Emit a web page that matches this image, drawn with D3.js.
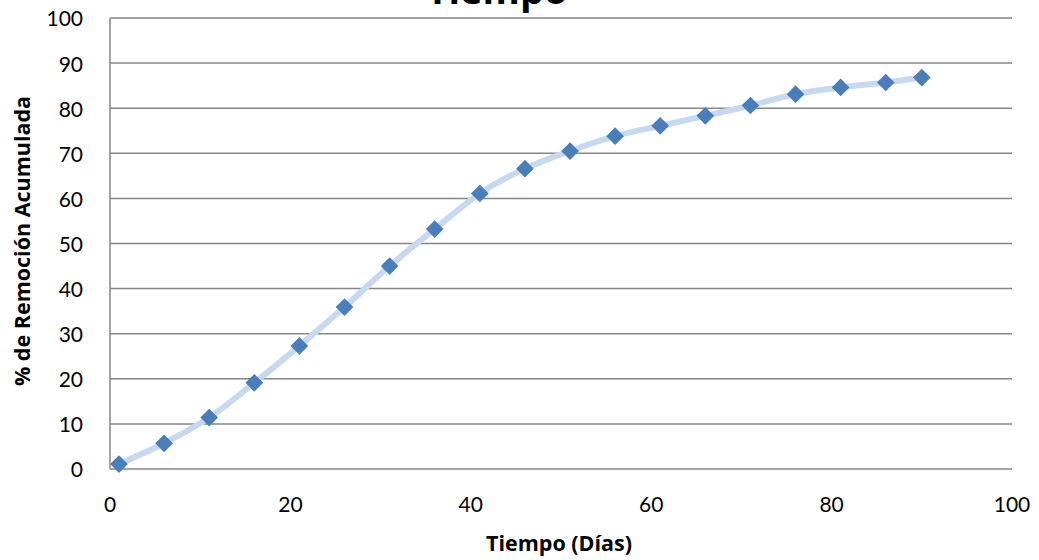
<!DOCTYPE html>
<html>
<head>
<meta charset="utf-8">
<style>
    body { margin: 0; background: #fff; }
    .grid line { stroke: #868686; stroke-width: 1.5; }
    .tick-label { font: 21px Lato, sans-serif; fill: #000; }
</style>
</head>
<body>
<svg width="1039" height="560"></svg>
<script src="https://cdn.jsdelivr.net/npm/d3@7"></script>
<script>
    // data
    var dias = [1, 6, 11, 16, 21, 26, 31, 36, 41, 46, 51, 56, 61, 66, 71, 76, 81, 86, 90];
    var remocion = [1.1, 5.7, 11.4, 19.1, 27.3, 35.9, 45.0, 53.2, 61.1, 66.6, 70.5, 73.8, 76.1, 78.3, 80.6, 83.1, 84.6, 85.7, 86.8];
    var xTicks = [0, 20, 40, 60, 80, 100];
    var yTicks = [0, 10, 20, 30, 40, 50, 60, 70, 80, 90, 100];

    var svg = d3.select("svg"),
        plotL = 110, plotR = 1012, plotT = 18, plotB = 469;

    var x = d3.scaleLinear().domain([0, 100]).range([plotL, plotR]);
    var y = d3.scaleLinear().domain([0, 100]).range([plotB, plotT]);

    // horizontal gridlines
    svg.append("g").attr("class", "grid")
        .selectAll("line").data(yTicks).enter().append("line")
        .attr("x1", plotL).attr("x2", plotR)
        .attr("y1", d => y(d)).attr("y2", d => y(d));

    // left axis line
    svg.append("line")
        .attr("x1", plotL).attr("x2", plotL).attr("y1", plotT).attr("y2", plotB)
        .attr("stroke", "#868686").attr("stroke-width", 1.5);

    // tick labels
    svg.selectAll(".ylab").data(yTicks).enter().append("text")
        .attr("class", "tick-label")
        .attr("x", 83).attr("y", d => y(d)).attr("dy", "0.4em")
        .attr("text-anchor", "end")
        .text(d => d);

    svg.selectAll(".xlab").data(xTicks).enter().append("text")
        .attr("class", "tick-label")
        .attr("x", d => x(d)).attr("y", 512)
        .attr("text-anchor", "middle")
        .text(d => d);

    // smoothed line
    var pts = dias.map((d, i) => [d, remocion[i]]);
    var line = d3.line()
        .x(d => x(d[0])).y(d => y(d[1]))
        .curve(d3.curveCatmullRom.alpha(0.5));

    svg.append("path")
        .datum(pts)
        .attr("d", line)
        .attr("fill", "none")
        .attr("stroke", "#c6d9f1")
        .attr("stroke-width", 6)
        .attr("stroke-linecap", "round");

    // diamond markers
    var diamond = d3.symbol().type(d3.symbolDiamond2).size(200);
    svg.selectAll(".pt").data(pts).enter().append("path")
        .attr("transform", d => "translate(" + x(d[0]) + "," + y(d[1]) + ")")
        .attr("d", diamond)
        .attr("fill", "#4a7ebb");

    // titles
    svg.append("text")
        .attr("x", 497).attr("y", 4)
        .attr("text-anchor", "middle")
        .style("font", "bold 38px 'Open Sans', sans-serif")
        .text("Tiempo");

    svg.append("text")
        .attr("x", 559).attr("y", 551)
        .attr("text-anchor", "middle")
        .style("font", "bold 21.5px 'Open Sans', sans-serif")
        .text("Tiempo (Días)");

    svg.append("text")
        .attr("transform", "translate(30,241) rotate(-90)")
        .attr("text-anchor", "middle")
        .style("font", "bold 21.5px 'Open Sans', sans-serif")
        .text("% de Remoción Acumulada");
</script>
</body>
</html>
